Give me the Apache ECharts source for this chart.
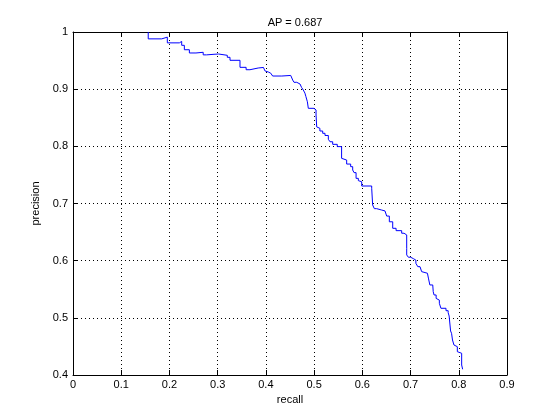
<!DOCTYPE html>
<html>
<head>
<meta charset="utf-8">
<script src="https://cdn.jsdelivr.net/npm/echarts@6/dist/echarts.min.js"></script>
<style>html,body{margin:0;padding:0;background:#fff}#c{width:560px;height:420px}</style>
</head>
<body>
<div id="c"></div>
<script>
var titleText = 'AP = 0.687';
var xName = 'recall';
var yName = 'precision';
var xTicks = [0,0.1,0.2,0.3,0.4,0.5,0.6,0.7,0.8,0.9];
var yTicks = [0.4,0.5,0.6,0.7,0.8,0.9,1];
var recall = [0.156,0.156,0.184,0.1956,0.2205,0.2254,0.2309,0.2413,0.255,0.270,0.277,0.2924,0.302,0.320,0.3256,0.3463,0.359,0.367,0.384,0.395,0.398,0.4016,0.405,0.410,0.414,0.433,0.4515,0.4556,0.4583,0.464,0.4708,0.474,0.4776,0.481,0.483,0.486,0.488,0.4998,0.504,0.5054,0.5087,0.512,0.5178,0.5226,0.5295,0.533,0.5385,0.548,0.557,0.5606,0.5675,0.5758,0.580,0.5828,0.587,0.5917,0.595,0.5987,0.6194,0.6214,0.6249,0.6297,0.640,0.647,0.6505,0.656,0.663,0.670,0.6816,0.6865,0.692,0.692,0.6955,0.700,0.706,0.711,0.715,0.7196,0.723,0.7265,0.735,0.737,0.740,0.746,0.747,0.7487,0.753,0.7555,0.7597,0.763,0.7735,0.778,0.780,0.783,0.785,0.787,0.790,0.794,0.797,0.801,0.806,0.808];
var precision = [1.0,0.988,0.991,0.981,0.9835,0.9767,0.969,0.9633,0.9645,0.960,0.961,0.9615,0.9592,0.9557,0.9505,0.9382,0.934,0.937,0.938,0.940,0.932,0.930,0.928,0.925,0.923,0.924,0.922,0.916,0.912,0.909,0.906,0.903,0.8985,0.893,0.887,0.878,0.8665,0.8636,0.8548,0.834,0.8315,0.8268,0.8228,0.819,0.8123,0.808,0.8035,0.7995,0.779,0.776,0.769,0.7644,0.7586,0.754,0.744,0.740,0.738,0.7306,0.7266,0.6974,0.691,0.6886,0.687,0.684,0.678,0.668,0.6566,0.6525,0.648,0.645,0.6216,0.610,0.606,0.6035,0.601,0.5954,0.5895,0.5867,0.5808,0.578,0.5795,0.5695,0.5575,0.5545,0.5458,0.540,0.534,0.531,0.5254,0.5167,0.5125,0.509,0.5032,0.477,0.473,0.4612,0.4525,0.4495,0.4408,0.438,0.4175,0.41];

var pts = recall.map(function(r,i){return [r, precision[i]];});
var font = 'Liberation Sans, Helvetica, Arial, sans-serif';
var chart = echarts.init(document.getElementById('c'), null, {renderer:'canvas'});
function axisCommon(show){
  return {
    axisLine:{show:true,onZero:false,lineStyle:{color:'#000',width:1}},
    axisTick:{show:true,inside:true,length:5,lineStyle:{color:'#000'}},
    axisLabel:{show:show,color:'#000',fontFamily:font,fontSize:11},
    splitLine:{show:false}
  };
}
var xb = axisCommon(true);
xb.type='value'; xb.min=0; xb.max=0.9; xb.interval=0.1; xb.position='bottom';
xb.name=xName; xb.nameLocation='middle'; xb.nameGap=19;
xb.nameTextStyle={color:'#000',fontFamily:font,fontSize:11};
xb.axisLabel.margin=4;
xb.axisLabel.formatter=function(v){var s=Math.round(v*10)/10;return xTicks.indexOf(s)>=0?String(s):'';};
xb.splitLine={show:true,lineStyle:{color:'#000',type:[1,3],width:1}};
var xt = axisCommon(false);
xt.type='value'; xt.min=0; xt.max=0.9; xt.interval=0.1; xt.position='top';
var yl = axisCommon(true);
yl.type='value'; yl.min=0.4; yl.max=1; yl.interval=0.1; yl.position='left';
yl.name=yName; yl.nameLocation='middle'; yl.nameGap=27;
yl.nameTextStyle={color:'#000',fontFamily:font,fontSize:11};
yl.axisLabel.margin=5;
yl.axisLabel.formatter=function(v){var s=Math.round(v*10)/10;return yTicks.indexOf(s)>=0?String(s):'';};
yl.splitLine={show:true,lineStyle:{color:'#000',type:[1,3],width:1}};
var yr = axisCommon(false);
yr.type='value'; yr.min=0.4; yr.max=1; yr.interval=0.1; yr.position='right';

chart.setOption({
  animation:false,
  backgroundColor:'#fff',
  title:{text:titleText,left:290,top:12,textAlign:'center',textStyle:{color:'#000',fontFamily:font,fontSize:11,fontWeight:'normal'}},
  grid:{left:73,right:53,top:32,bottom:45,show:false},
  xAxis:[xb,xt],
  yAxis:[yl,yr],
  series:[{type:'line',xAxisIndex:0,yAxisIndex:0,data:pts,step:'end',showSymbol:false,symbol:'none',
    lineStyle:{color:'#0000ff',width:1},z:5}]
});
</script>
</body>
</html>
